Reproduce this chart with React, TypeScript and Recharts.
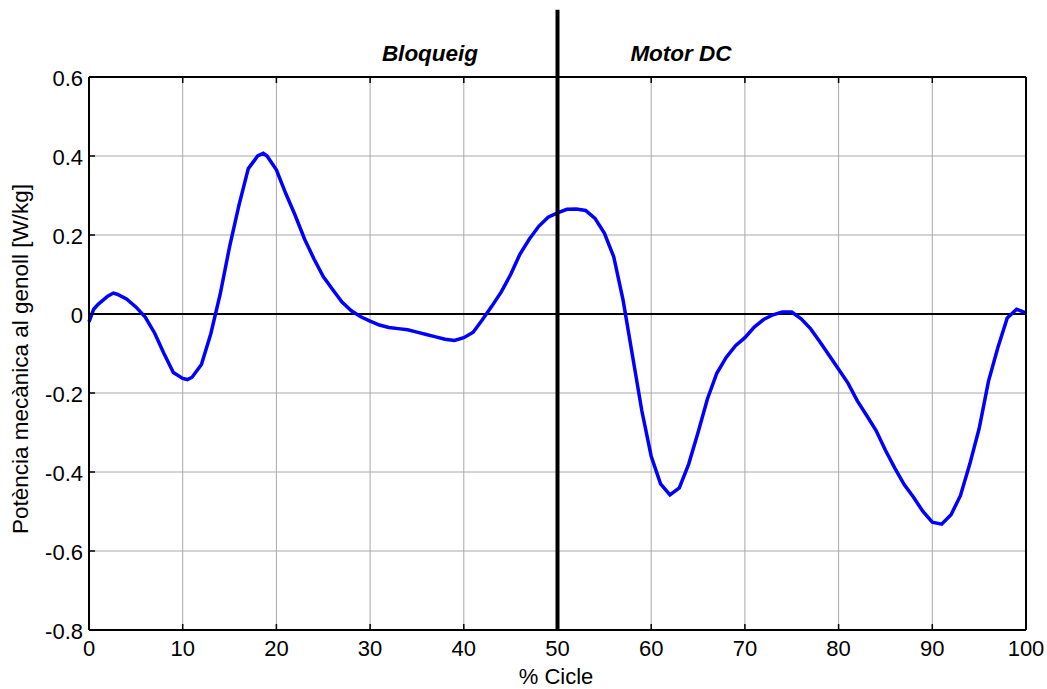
import { LineChart, Line, XAxis, YAxis, CartesianGrid, ReferenceLine } from "recharts";

// % of gait cycle and knee mechanical power [W/kg]
const cycle = [
  0, 0.5, 1, 2, 2.6, 3, 4, 5, 6, 7, 8, 9, 10, 10.5, 11, 12, 13, 14, 15, 16, 17, 18, 18.6, 19, 20,
  21, 22, 23, 24, 25, 26, 27, 28, 29, 30, 31, 32, 33, 34, 35, 36, 37, 38, 39, 40, 41, 42, 43, 44,
  45, 46, 47, 48, 49, 50, 51, 52, 53, 54, 55, 56, 57, 58, 59, 60, 61, 62, 63, 64, 65, 66, 67, 68,
  69, 70, 71, 72, 73, 74, 75, 76, 77, 78, 79, 80, 81, 82, 83, 84, 85, 86, 87, 88, 89, 90, 91, 92,
  93, 94, 95, 96, 97, 98, 99, 100,
];
const power = [
  -0.02, 0.012, 0.025, 0.045, 0.053, 0.05, 0.038, 0.018, -0.008, -0.048, -0.1, -0.148, -0.163,
  -0.166, -0.16, -0.128, -0.05, 0.05, 0.17, 0.275, 0.368, 0.4, 0.407, 0.4, 0.365, 0.305, 0.25, 0.19,
  0.14, 0.095, 0.062, 0.03, 0.008, -0.007, -0.018, -0.028, -0.034, -0.037, -0.04, -0.046, -0.052,
  -0.058, -0.064, -0.067, -0.06, -0.046, -0.014, 0.02, 0.056, 0.1, 0.152, 0.19, 0.222, 0.245, 0.256,
  0.265, 0.266, 0.262, 0.242, 0.205, 0.145, 0.035, -0.105, -0.245, -0.36, -0.43, -0.458, -0.44,
  -0.38, -0.3, -0.215, -0.15, -0.11, -0.08, -0.06, -0.033, -0.014, -0.002, 0.005, 0.005, -0.012,
  -0.037, -0.07, -0.105, -0.14, -0.175, -0.22, -0.257, -0.295, -0.345, -0.39, -0.432, -0.464, -0.5,
  -0.527, -0.532, -0.508, -0.46, -0.38, -0.29, -0.17, -0.085, -0.01, 0.012, 0.003,
];

const xTicks = [0, 10, 20, 30, 40, 50, 60, 70, 80, 90, 100];
const yTicks = [-0.8, -0.6, -0.4, -0.2, 0, 0.2, 0.4, 0.6];

const data = cycle.map((x, i) => ({ x, p: power[i] }));

const FONT = "Arial, 'Liberation Sans', sans-serif";
const TICK = 5;

const fmtY = (v: number) => (v === 0 ? "0" : v.toFixed(1));

function BottomTick({ x, y, payload }: any) {
  return (
    <g>
      <line x1={x} y1={y - 1} x2={x} y2={y - 1 - TICK} stroke="#000" strokeWidth={1.5} />
      <text x={x} y={y + 26} textAnchor="middle" fontSize={22} fontFamily={FONT} fill="#000">
        {payload.value}
      </text>
    </g>
  );
}

function LeftTick({ x, y, payload }: any) {
  return (
    <g>
      <line x1={x + 1} y1={y} x2={x + 1 + TICK} y2={y} stroke="#000" strokeWidth={1.5} />
      <text x={x - 6} y={y + 9} textAnchor="end" fontSize={22} fontFamily={FONT} fill="#000">
        {fmtY(payload.value)}
      </text>
    </g>
  );
}

function TopTick({ x, y }: any) {
  return <line x1={x} y1={y + 1} x2={x} y2={y + 1 + TICK} stroke="#000" strokeWidth={1.5} />;
}

function RightTick({ x, y }: any) {
  return <line x1={x - 1} y1={y} x2={x - 1 - TICK} y2={y} stroke="#000" strokeWidth={1.5} />;
}

export default function App() {
  return (
    <div style={{ position: "absolute", left: 0, top: 0, width: 1047, height: 689, background: "#fff" }}>
      <LineChart width={1047} height={689} data={data} margin={{ top: 76, right: 20, bottom: 58, left: 88 }}>
        <CartesianGrid stroke="#a8a8a8" strokeWidth={1} />
        <XAxis
          dataKey="x"
          type="number"
          domain={[0, 100]}
          ticks={xTicks}
          height={1}
          tickSize={0}
          tickMargin={0}
          tickLine={false}
          axisLine={{ stroke: "#000", strokeWidth: 2 }}
          tick={<BottomTick />}
          interval={0}
        />
        <XAxis
          xAxisId="top"
          orientation="top"
          dataKey="x"
          type="number"
          domain={[0, 100]}
          ticks={xTicks}
          height={1}
          tickSize={0}
          tickMargin={0}
          tickLine={false}
          axisLine={{ stroke: "#000", strokeWidth: 2 }}
          tick={<TopTick />}
          interval={0}
        />
        <YAxis
          type="number"
          domain={[-0.8, 0.6]}
          ticks={yTicks}
          width={1}
          tickSize={0}
          tickMargin={0}
          tickLine={false}
          axisLine={{ stroke: "#000", strokeWidth: 2 }}
          tick={<LeftTick />}
          interval={0}
          allowDataOverflow
        />
        <YAxis
          yAxisId="right"
          orientation="right"
          type="number"
          domain={[-0.8, 0.6]}
          ticks={yTicks}
          width={1}
          tickSize={0}
          tickMargin={0}
          tickLine={false}
          axisLine={{ stroke: "#000", strokeWidth: 2 }}
          tick={<RightTick />}
          interval={0}
        />
        <ReferenceLine y={0} stroke="#000" strokeWidth={2} />
        <Line
          dataKey="p"
          type="linear"
          stroke="#0000ff"
          strokeWidth={3.5}
          dot={false}
          activeDot={false}
          isAnimationActive={false}
        />
        <ReferenceLine
          segment={[
            { x: 50, y: -0.8 },
            { x: 50, y: 0.77 },
          ]}
          ifOverflow="visible"
          stroke="#000"
          strokeWidth={4}
        />
        <text x={430} y={61} textAnchor="middle" fontSize={22.5} fontWeight="bold" fontStyle="italic" fontFamily={FONT}>
          Bloqueig
        </text>
        <text x={681} y={61} textAnchor="middle" fontSize={22.5} fontWeight="bold" fontStyle="italic" fontFamily={FONT}>
          Motor DC
        </text>
        <text x={556} y={684} textAnchor="middle" fontSize={22} fontFamily={FONT}>
          % Cicle
        </text>
        <text
          x={28}
          y={359}
          textAnchor="middle"
          fontSize={22.5}
          fontFamily={FONT}
          transform="rotate(-90 28 359)"
        >
          Potència mecànica al genoll [W/kg]
        </text>
      </LineChart>
    </div>
  );
}
